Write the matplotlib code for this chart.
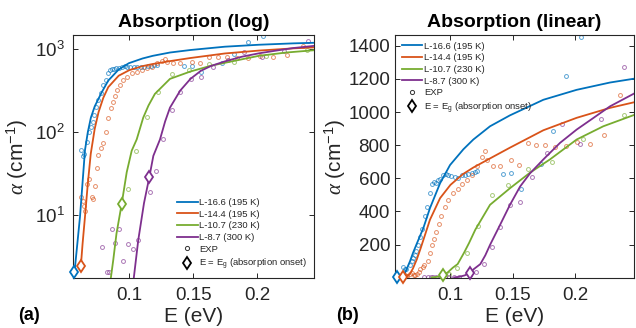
import matplotlib
matplotlib.use("Agg")
import matplotlib.pyplot as plt
from matplotlib.lines import Line2D
from matplotlib.ticker import FixedLocator, LogFormatterMathtext, NullLocator

plt.rcParams['font.family'] = ['Liberation Sans', 'DejaVu Sans']
plt.rcParams['mathtext.fontset'] = 'custom'
plt.rcParams['mathtext.rm'] = 'Liberation Sans'
plt.rcParams['mathtext.it'] = 'Liberation Serif:italic'
plt.rcParams['mathtext.bf'] = 'Liberation Sans:bold'

# ---------------- data ----------------
labels = ['L-16.6 (195 K)', 'L-14.4 (195 K)', 'L-10.7 (230 K)', 'L-8.7 (300 K)']
colors = ['#0072BD', '#D95319', '#77AC30', '#7E2F8E']

# model curves (E in eV, alpha in cm^-1)
blue_E = [0.0572, 0.0590, 0.0615, 0.0630, 0.0654, 0.0676, 0.0700, 0.0730, 0.0783, 0.0836,
          0.0917, 0.0997, 0.1104, 0.1184, 0.1318, 0.1478, 0.1746, 0.2013, 0.2280, 0.2480]
blue_A = [2.06, 3.9, 9.6, 19.5, 61, 100, 150, 205, 300, 420,
          570, 680, 775, 834, 914, 980, 1074, 1134, 1178, 1202]
red_E = [0.0622, 0.0635, 0.0654, 0.0676, 0.0699, 0.0730, 0.0760, 0.0797, 0.0836, 0.0917,
         0.1000, 0.1100, 0.1184, 0.1318, 0.1478, 0.1746, 0.2013, 0.2280, 0.2480]
red_A = [2.47, 4.5, 9.6, 24, 55, 110, 175, 260, 350, 480,
         560, 625, 665, 720, 785, 890, 965, 1025, 1060]
green_E = [0.0850, 0.0875, 0.0900, 0.0940, 0.0980, 0.1019, 0.1058, 0.1109, 0.1150, 0.1200,
           0.1318, 0.1478, 0.1639, 0.1799, 0.2013, 0.2227, 0.2480]
green_A = [1.5, 2.9, 6.0, 13.5, 33, 60, 82, 150, 210, 290,
           440, 540, 634, 714, 834, 914, 984]
purple_E = [0.1030, 0.1070, 0.1115, 0.1157, 0.1188, 0.1240, 0.1280, 0.1318, 0.1398, 0.1478,
            0.1559, 0.1639, 0.1746, 0.1880, 0.2013, 0.2147, 0.2280, 0.2480]
purple_A = [1.5, 5.0, 14, 29, 52, 82, 135, 198, 318, 440,
            550, 630, 714, 814, 894, 964, 1034, 1114]

# experimental points
blue_xE = [0.0623, 0.0636, 0.0646, 0.0672, 0.0688, 0.0701, 0.0714, 0.0727, 0.0740, 0.0758,
           0.0776, 0.0797, 0.0815, 0.0836, 0.0849, 0.0866, 0.0882, 0.0898, 0.0917, 0.0943,
           0.0965, 0.0983, 0.1005, 0.1037, 0.1064, 0.1090, 0.1117, 0.1144, 0.1171, 0.1197,
           0.1216, 0.1425, 0.1490, 0.1564, 0.1727, 0.1821, 0.1928, 0.2046]
blue_xA = [62, 52, 55, 77, 102, 117, 134, 162, 200, 245,
           295, 371, 427, 514, 564, 575, 574, 588, 598, 620,
           624, 620, 614, 610, 604, 618, 618, 624, 630, 638,
           642, 624, 630, 538, 684, 884, 1215, 1450]
red_xE = [0.0620, 0.0636, 0.0646, 0.0654, 0.0672, 0.0688, 0.0706, 0.0719, 0.0732, 0.0745,
          0.0758, 0.0777, 0.0792, 0.0818, 0.0836, 0.0855, 0.0870, 0.0888, 0.0906, 0.0927,
          0.0953, 0.0980, 0.1019, 0.1058, 0.1097, 0.1136, 0.1175, 0.1214, 0.1253, 0.1278,
          0.1292, 0.1344, 0.1396, 0.1487, 0.1552, 0.1620, 0.1690, 0.1760, 0.1840, 0.1928,
          0.2019, 0.2120, 0.2230, 0.2360]
red_xA = [16.7, 14.7, 13, 11.3, 23.6, 27, 16.5, 15.7, 22.5, 37,
          53, 64, 74, 101, 147, 195, 234, 273, 324, 372,
          427, 467, 513, 537, 563, 590, 617, 677, 728, 764,
          710, 677, 677, 709, 678, 812, 800, 800, 786, 792,
          822, 805, 860, 1100]
green_xE = [0.0990, 0.1052, 0.1136, 0.1225, 0.1335, 0.1465, 0.1620, 0.1817, 0.2067, 0.2390]
green_xA = [21, 60, 152, 309, 502, 558, 658, 698, 840, 980]
purple_xE = [0.0789, 0.0823, 0.0841, 0.0862, 0.0888, 0.0922, 0.0953, 0.0988, 0.1027, 0.1066,
             0.1160, 0.1209, 0.1266, 0.1331, 0.1400, 0.1482, 0.1560, 0.1656, 0.1773, 0.1895,
             0.2036, 0.2205, 0.2395]
purple_xA = [4.1, 2.1, 2.1, 6.8, 4.6, 6.8, 2.8, 4.5, 3.9, 5.0,
             19, 34, 83, 183, 308, 440, 458, 608, 750, 926,
             810, 956, 1272]

# band-gap (absorption onset) markers
eg_E = [0.0572, 0.0622, 0.0940, 0.1157]
eg_A = [2.06, 2.47, 13.5, 29.2]

curves_E = [blue_E, red_E, green_E, purple_E]
curves_A = [blue_A, red_A, green_A, purple_A]
exp_E = [blue_xE, red_xE, green_xE, purple_xE]
exp_A = [blue_xA, red_xA, green_xA, purple_xA]

# ---------------- figure ----------------
fig = plt.figure(figsize=(6.36, 3.28), dpi=100)
axL = fig.add_axes([0.1143, 0.1534, 0.3794, 0.7399])
axR = fig.add_axes([0.6210, 0.1534, 0.3758, 0.7399])

ink = '#262626'

def style(ax, pad):
    for s in ax.spines.values():
        s.set_color(ink)
        s.set_linewidth(0.8)
    ax.tick_params(direction='in', top=True, right=True, length=3.5, width=0.7,
                   colors=ink, labelsize=13.5, pad=pad)
    ax.tick_params(axis='x', pad=7)

for ax in (axL, axR):
    for i in range(4):
        ax.plot(exp_E[i], exp_A[i], 'o', ms=2.8, mfc='none', mec=colors[i],
                mew=0.7, alpha=0.65, zorder=2, clip_on=True)
    for i in range(4):
        ax.plot(curves_E[i], curves_A[i], '-', color=colors[i], lw=1.3, zorder=3)
    for i in range(4):
        ax.plot(eg_E[i], eg_A[i], 'd', ms=6.5, mfc='white', mec=colors[i],
                mew=1.3, zorder=4, clip_on=False)

# log panel
axL.set_yscale('log')
axL.set_xlim(0.0558, 0.2443)
axL.set_ylim(1.77, 1486)
axL.yaxis.set_major_locator(FixedLocator([10, 100, 1000]))
axL.yaxis.set_major_formatter(LogFormatterMathtext())
axL.yaxis.set_minor_locator(NullLocator())
axL.set_xticks([0.1, 0.15, 0.2])
axL.set_xticklabels(['0.1', '0.15', '0.2'])
style(axL, 6)
axL.set_title('Absorption (log)', fontsize=14, fontweight='bold', pad=6, color='black')

# linear panel
axR.set_xlim(0.0555, 0.2473)
axR.set_ylim(0, 1465)
axR.set_yticks([200, 400, 600, 800, 1000, 1200, 1400])
axR.set_xticks([0.1, 0.15, 0.2])
axR.set_xticklabels(['0.1', '0.15', '0.2'])
style(axR, 3.5)
axR.set_title('Absorption (linear)', fontsize=14, fontweight='bold', pad=6, color='black')

for ax, xl in ((axL, -0.178), (axR, -0.195)):
    ax.set_xlabel('E (eV)', fontsize=15, color=ink)
    ax.xaxis.set_label_coords(0.5, -0.12)
    ax.set_ylabel(r'$\alpha$ (cm$^{-1}$)', fontsize=15, color=ink)
    ax.yaxis.set_label_coords(xl, 0.5)

fig.text(18 / 636, 1 - 315 / 328, '(a)', fontsize=13, fontweight='bold', va='center', ha='left')
fig.text(336 / 636, 1 - 315 / 328, '(b)', fontsize=13, fontweight='bold', va='center', ha='left')

handles = [Line2D([], [], color=colors[i], lw=1.3) for i in range(4)]
handles.append(Line2D([], [], ls='none', marker='o', ms=3.0, mfc='none', mec='#333333', mew=0.7))
handles.append(Line2D([], [], ls='none', marker='d', ms=6, mfc='white', mec='black', mew=1.3))
leg_labels = labels + ['EXP', r'E = E$_\mathrm{g}$ (absorption onset)']

for ax, loc, anchor in ((axL, 'lower right', (1.0, 0.0)), (axR, 'upper left', (0.0, 1.0))):
    leg = ax.legend(handles, leg_labels, loc=loc, bbox_to_anchor=anchor, frameon=False,
                    fontsize=6.8, handlelength=2.2, handletextpad=0.15, labelspacing=0.28,
                    borderaxespad=0.5, borderpad=0.2)
    for t in leg.get_texts():
        t.set_color(ink)

fig.savefig('out.png', dpi=100)
